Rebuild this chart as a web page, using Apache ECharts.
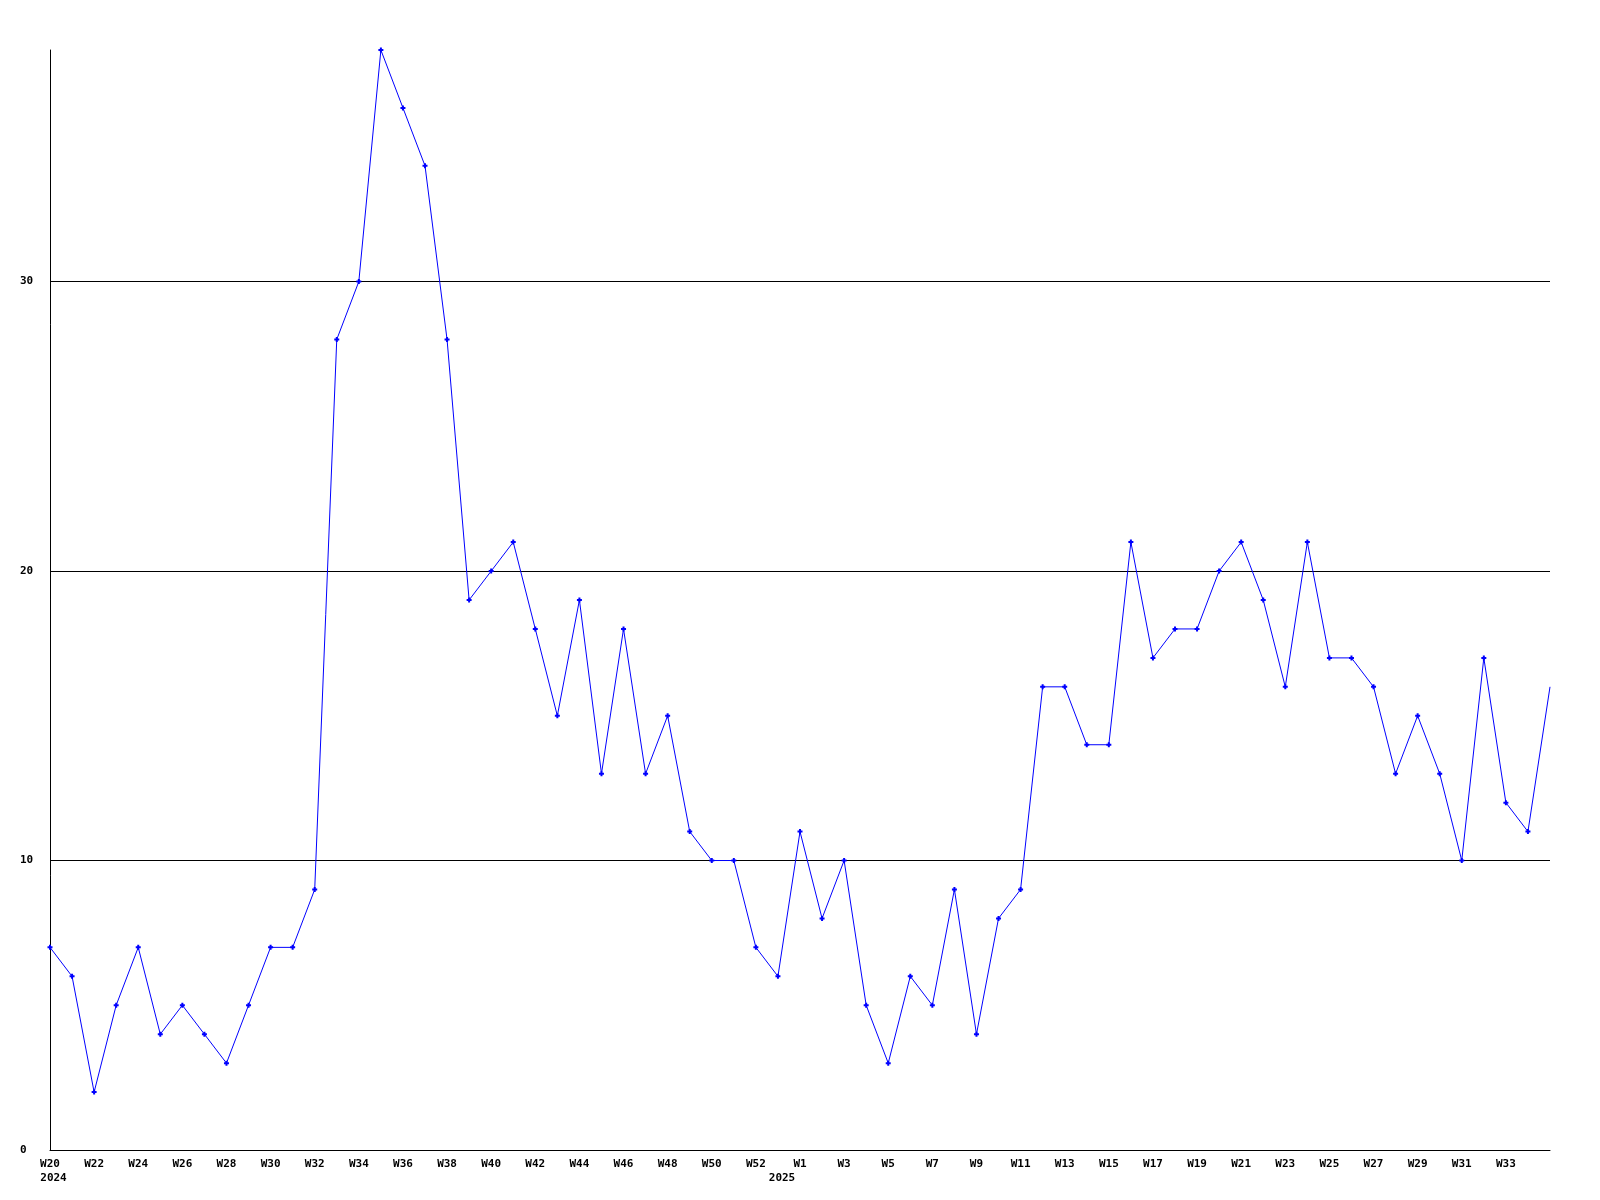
<!DOCTYPE html>
<html><head><meta charset="utf-8">
<script src="https://cdn.jsdelivr.net/npm/echarts@6/dist/echarts.min.js"></script>
<style>html,body{margin:0;padding:0;background:#fff}#c{width:1600px;height:1200px}</style>
</head><body><div id="c"></div>
<script>
const weeks2024 = ["W20","W21","W22","W23","W24","W25","W26","W27","W28","W29","W30","W31","W32","W33","W34","W35","W36","W37","W38","W39","W40","W41","W42","W43","W44","W45","W46","W47","W48","W49","W50","W51","W52","W53"];
const weeks2025 = ["W1","W2","W3","W4","W5","W6","W7","W8","W9","W10","W11","W12","W13","W14","W15","W16","W17","W18","W19","W20","W21","W22","W23","W24","W25","W26","W27","W28","W29","W30","W31","W32","W33","W34","W35"];
const values2024 = [7,6,2,5,7,4,5,4,3,5,7,7,9,28,30,38,36,34,28,19,20,21,18,15,19,13,18,13,15,11,10,10,7,6];
const values2025 = [11,8,10,5,3,6,5,9,4,8,9,16,16,14,14,21,17,18,18,20,21,19,16,21,17,17,16,13,15,13,10,17,12,11,16];
const yTicks = [0,10,20,30];

const categories = weeks2024.map(w => w + "|2024").concat(weeks2025.map(w => w + "|2025"));
const values = values2024.concat(values2025);
const lastIdx = categories.length - 1;
const data = values.map((v, i) => i === lastIdx ? {value: v, symbol: 'none'} : v);

const chart = echarts.init(document.getElementById('c'), null, {renderer: 'canvas'});
const font = '"DejaVu Sans Mono", monospace';
chart.setOption({
  animation: false,
  backgroundColor: '#ffffff',
  grid: {left: 50, right: 50, top: 50, bottom: 50, containLabel: false},
  xAxis: {
    type: 'category',
    data: categories,
    boundaryGap: false,
    axisLine: {show: true, lineStyle: {color: '#000', width: 1}},
    axisTick: {show: false},
    splitLine: {show: false},
    axisLabel: {
      interval: (i) => i % 2 === 0 && i < lastIdx,
      margin: 7,
      color: '#000',
      fontFamily: font,
      fontWeight: 'bold',
      fontSize: 11,
      lineHeight: 14,
      formatter: (val, i) => {
        const [w, y] = val.split('|');
        if (i === 0) return w + '\n{ya|' + y + '}';
        if (w === 'W1') return w + '\n{yb|' + y + '}';
        return w;
      },
      rich: {
        ya: {fontFamily: font, fontWeight: 'bold', fontSize: 11, color: '#000', lineHeight: 14, padding: [0, 0, 0, 7]},
        yb: {fontFamily: font, fontWeight: 'bold', fontSize: 11, color: '#000', lineHeight: 14, padding: [0, 36, 0, 0]}
      }
    }
  },
  yAxis: {
    type: 'value',
    min: 0, max: 38, interval: 10,
    axisLine: {show: true, lineStyle: {color: '#000', width: 1}},
    axisTick: {show: false},
    splitLine: {show: true, showMaxLine: false, lineStyle: {color: '#000', width: 1}},
    axisLabel: {
      color: '#000', fontFamily: font, fontWeight: 'bold', fontSize: 11,
      align: 'left', margin: 30,
      formatter: (v) => yTicks.indexOf(v) >= 0 ? String(v) : ''
    }
  },
  series: [{
    type: 'line',
    data: data,
    symbol: 'path://M1.5,0 L3.5,0 L3.5,1.5 L5,1.5 L5,3.5 L3.5,3.5 L3.5,5 L1.5,5 L1.5,3.5 L0,3.5 L0,1.5 L1.5,1.5 Z',
    symbolSize: 5,
    itemStyle: {color: '#0000ff'},
    lineStyle: {color: '#0000ff', width: 1},
    clip: true
  }]
});
</script></body></html>
